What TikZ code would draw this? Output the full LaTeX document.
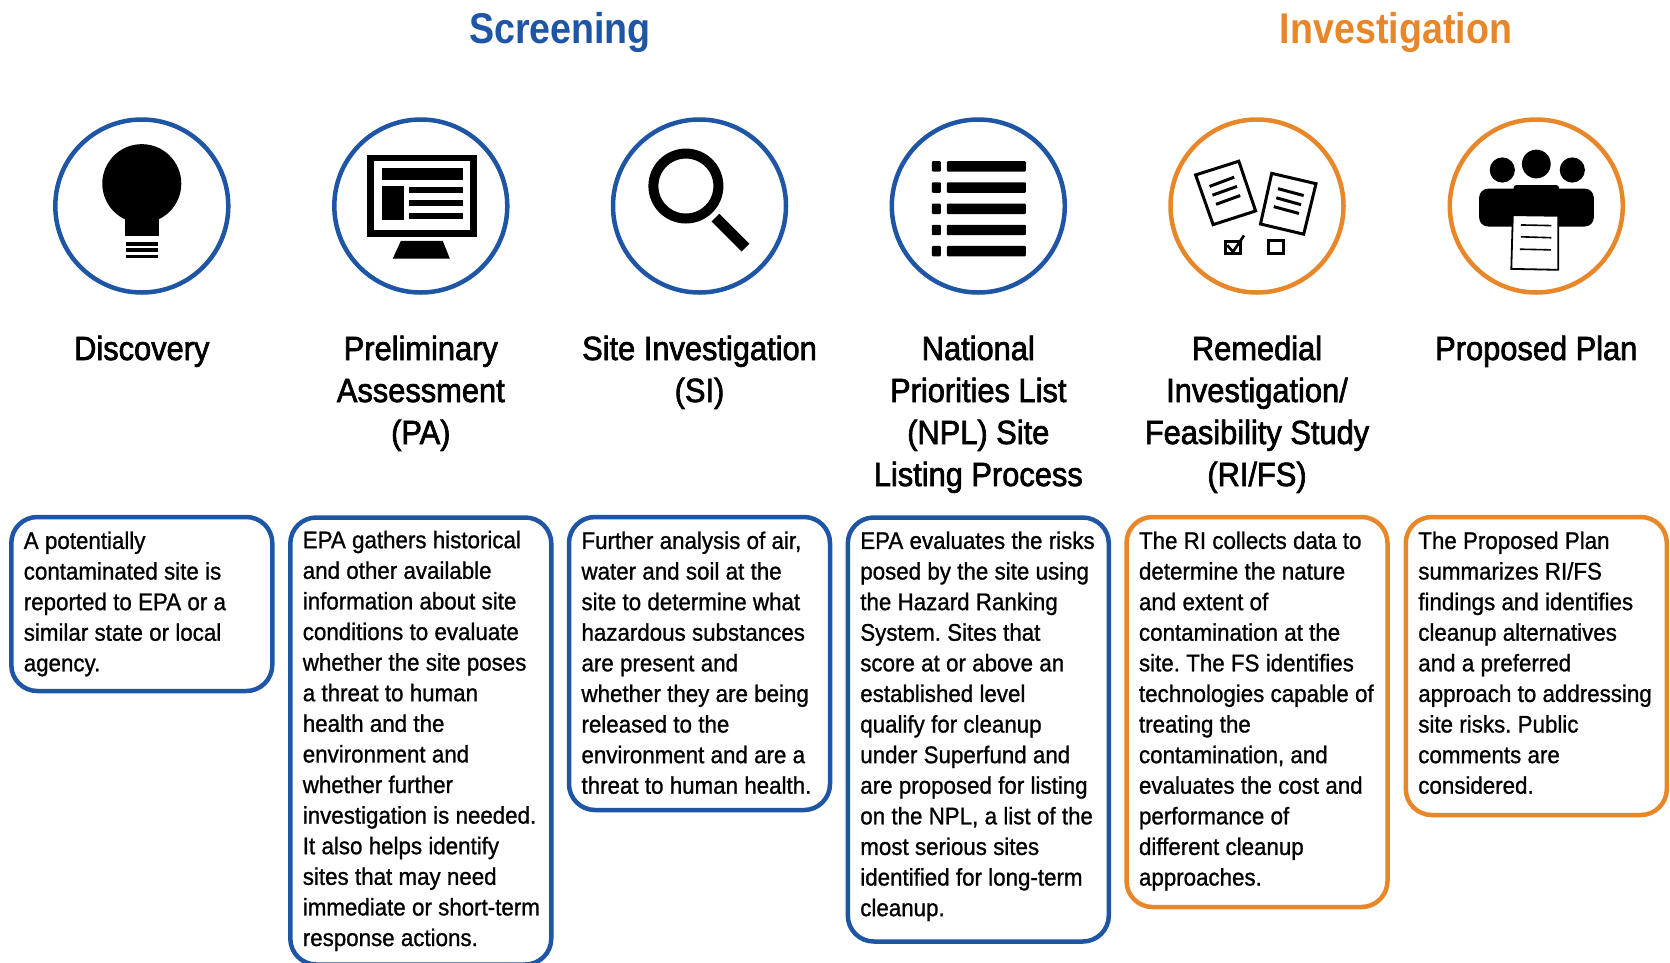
\documentclass[tikz,border=0pt]{standalone}
\usepackage{fontspec}
\setmainfont[FakeStretch=0.93,FakeBold=1]{Liberation Sans}
\newfontfamily\headfont[FakeStretch=0.92,FakeBold=2]{Liberation Sans}
\newfontfamily\topfont[FakeStretch=0.875]{Liberation Sans}
\definecolor{epablue}{HTML}{1F55A5}
\definecolor{epaorange}{HTML}{E8872A}
\def\wide{\frenchspacing\spaceskip=6.3pt\relax\rightskip=-30pt plus 2em\relax}
\def\tail#1{\par\vspace{#1}\kern0pt\relax}
\tikzset{
  x=1pt,y=-1pt,
  ring/.style={circle,draw=#1,line width=4.5pt,minimum size=173pt,inner sep=0pt,fill=white},
  infobox/.style={draw=#1,line width=4.5pt,rounded corners=26pt,fill=white,minimum width=261pt,text width=236pt,inner xsep=12.5pt,inner ysep=0pt,align=left,font=\fontsize{24pt}{30.6pt}\selectfont},
  stagetitle/.style={align=center,anchor=base,inner sep=0pt,font=\headfont\fontsize{33.5pt}{42pt}\selectfont},
  grouptitle/.style={anchor=base,inner sep=0pt,font=\topfont\bfseries\fontsize{43pt}{46pt}\selectfont,text=#1},
  pen/.style={draw=black,line width=#1,fill=none},
  pen/.default=3pt,
  iconscale/.style={yscale=0.933},
}
\begin{document}
\begin{tikzpicture}
\useasboundingbox (0,0) rectangle (1670,962);

\node[grouptitle=epablue] (screening) at (560,43.5) {Screening};
\node[grouptitle=epaorange] (investigation) at (1396,43.5) {Investigation};

\node[ring=epablue] (c1) at (141.8,206) {};
\node[ring=epablue] (c2) at (420.8,206) {};
\node[ring=epablue] (c3) at (699.5,206) {};
\node[ring=epablue] (c4) at (978.3,206) {};
\node[ring=epaorange] (c5) at (1257,206) {};
\node[ring=epaorange] (c6) at (1536.3,206) {};

% bulb
\begin{scope}[shift={(c1.center)},iconscale]
  \fill[black] (0,-24) ellipse [x radius=39.5pt,y radius=42.3pt];
  \fill[black] (-17.3,0) rectangle (17.3,32);
  \fill[black] (-16,38.5) rectangle (16,43);
  \fill[black] (-16,44.8) rectangle (16,49.2);
  \fill[black] (-16,52) rectangle (16,55.5);
\end{scope}
% monitor
\begin{scope}[shift={(c2.center)},iconscale]
  \draw[black,line width=6.5pt] (-50.3,-51.7) rectangle (52.7,29.2);
  \fill[black] (-38.6,-41) rectangle (41.8,-27.5);
  \fill[black] (-38.6,-21) rectangle (-17,15);
  \fill[black] (-11.8,-20.7) rectangle (41.8,-14);
  \fill[black] (-11.8,-6.8) rectangle (41.8,0);
  \fill[black] (-11.8,7.5) rectangle (41.8,14.3);
  \fill[black] (-20,37.5) -- (22,37.5) -- (29,56.4) -- (-28,56.4) -- cycle;
\end{scope}
% magnifier
\begin{scope}[shift={(c3.center)},iconscale]
  \draw[black,line width=10pt] (-13.6,-21.4) ellipse [x radius=32.5pt,y radius=34.8pt];
  \draw[black,line width=11pt] (16,12.5) -- (46,44.6);
\end{scope}
% list
\begin{scope}[shift={(c4.center)},iconscale]
  \foreach \yy in {-42.5,-19.8,3,25.7,48.4}{
    \fill[black,rounded corners=1pt] (-46.4,\yy-5.6) rectangle (-37.5,\yy+5.6);
    \fill[black,rounded corners=1pt] (-31.4,\yy-5.6) rectangle (47.5,\yy+5.6);
  }
\end{scope}
% documents
\begin{scope}[shift={(c5.center)},iconscale]
  \draw[pen] (-61.4,-33.3) -- (-18.2,-48) -- (-1.4,5.3) -- (-43.9,20) -- cycle;
  \draw[pen] (-47.4,-21) -- (-22.8,-30.9);
  \draw[pen] (-44.6,-11.6) -- (-20,-21);
  \draw[pen] (-41,-1.8) -- (-16.8,-11.2);
  \draw[pen] (14.7,-35) -- (59,-23.9) -- (46.7,30.2) -- (3.5,19.3) -- cycle;
  \draw[pen] (21,-18.6) -- (46.7,-11.2);
  \draw[pen] (19.3,-8.8) -- (44,-1.4);
  \draw[pen] (16.8,0.7) -- (42,8);
  \draw[pen] (-31.6,37.9) rectangle (-16.8,50.9);
  \draw[pen=2.6pt] (-29.8,42) -- (-24,49) -- (-13,31.6);
  \draw[pen] (11.6,37.5) rectangle (26.3,50.9);
\end{scope}
% people and paper
\begin{scope}[shift={(c6.center)},iconscale]
  \fill[black] (-34,-38.6) ellipse [x radius=12.6pt,y radius=13.5pt];
  \fill[black] (0,-45) ellipse [x radius=14.4pt,y radius=15.4pt];
  \fill[black] (36,-38.6) ellipse [x radius=12.6pt,y radius=13.5pt];
  \fill[black,rounded corners=9pt] (-57.2,-18.6) rectangle (57.5,22);
  \fill[black,rounded corners=3pt] (-22.8,-22.5) rectangle (22.8,0);
  \draw[black,line width=1.8pt,fill=white] (-23.5,9.8) -- (22,10.5) -- (22,68.4) -- (-25,67.4) -- cycle;
  \draw[pen=1.6pt] (-15.5,20.3) -- (15,21);
  \draw[pen=1.6pt] (-15.5,33) -- (15,34);
  \draw[pen=1.6pt] (-16.5,46.3) -- (14.5,47);
\end{scope}

% stage titles (anchor=base sits on the last line)
\node[stagetitle] (t1) at (141.8,360) {Discovery};
\node[stagetitle] (t2) at (420.8,444) {Preliminary\\Assessment\\(PA)};
\node[stagetitle] (t3) at (699.5,402) {Site Investigation\\(SI)};
\node[stagetitle] (t4) at (978.3,486) {National\\Priorities List\\(NPL) Site\\Listing Process};
\node[stagetitle] (t5) at (1257,486) {Remedial\\Investigation/\\Feasibility Study\\(RI/FS)};
\node[stagetitle] (t6) at (1536.3,360) {Proposed Plan};

% description boxes
\node[infobox=epablue,minimum height=174pt] (b1) at (141.8,604) {\wide\strut A potentially\\contaminated site is\\reported to EPA or a\\similar state or local\\agency.\strut};
\node[infobox=epablue,minimum height=447pt] (b2) at (420.8,741) {\wide\strut EPA gathers historical\\and other available\\information about site\\conditions to evaluate\\whether the site poses\\a threat to human\\health and the\\environment and\\whether further\\investigation is needed.\\It also helps identify\\sites that may need\\immediate or short-term\\response actions.\strut};
\node[infobox=epablue,minimum height=293pt] (b3) at (699.5,663.5) {\wide\strut Further analysis of air,\\water and soil at the\\site to determine what\\hazardous substances\\are present and\\whether they are being\\released to the\\environment and are a\\threat to human health.\strut\tail{-3.4pt}};
\node[infobox=epablue,minimum height=424pt] (b4) at (978.3,729.5) {\wide\strut EPA evaluates the risks\\posed by the site using\\the Hazard Ranking\\System. Sites that\\score at or above an\\established level\\qualify for cleanup\\under Superfund and\\are proposed for listing\\on the NPL, a list of the\\most serious sites\\identified for long-term\\cleanup.\strut\tail{6.2pt}};
\node[infobox=epaorange,minimum height=390pt] (b5) at (1257,712) {\wide\strut The RI collects data to\\determine the nature\\and extent of\\contamination at the\\site. The FS identifies\\technologies capable of\\treating the\\contamination, and\\evaluates the cost and\\performance of\\different cleanup\\approaches.\strut\tail{1.8pt}};
\node[infobox=epaorange,minimum height=298pt] (b6) at (1536.3,666) {\wide\strut The Proposed Plan\\summarizes RI/FS\\findings and identifies\\cleanup alternatives\\and a preferred\\approach to addressing\\site risks. Public\\comments are\\considered.\strut\tail{1.6pt}};
\end{tikzpicture}
\end{document}
